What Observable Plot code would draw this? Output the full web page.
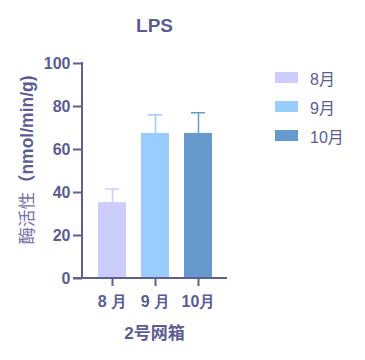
<!DOCTYPE html>
<html><head><meta charset="utf-8">
<script src="https://cdn.jsdelivr.net/npm/d3@7"></script>
<script src="https://cdn.jsdelivr.net/npm/@observablehq/plot@0.6"></script>
<style>
body{margin:0;background:#fff;font-family:"Liberation Sans",Arial,"Noto Sans CJK SC",sans-serif;}
#wrap{position:relative;width:365px;height:360px;}
#wrap svg{position:absolute;left:0;top:0;}
.t{position:absolute;color:#5c5c95;font-weight:bold;white-space:nowrap;line-height:1;}
.leg{position:absolute;left:275px;font-size:16px;color:#5c5c95;}
.leg div{height:29px;display:flex;align-items:center;}
.leg span.sw{display:inline-block;width:23px;height:11px;margin-right:12px;}
</style></head>
<body><div id="wrap"></div>
<script>
const months = ["8月", "9月", "10月"];
const tickLabels = ["8 月", "9 月", "10月"];
const values = [35.3, 67.5, 67.5];
const errors = [6.3, 8.6, 9.6];
const colors = ["#ccccff", "#99ccff", "#6699cc"];
const yTicks = [0, 20, 40, 60, 80, 100];
const title = "LPS";
const yLabelCJK = "酶活性";
const yLabelUnit = "（nmol/min/g)";
const xLabel = "2号网箱";

const data = months.map((m, i) => ({month: m, value: values[i], top: values[i] + errors[i]}));
const axisColor = "#5f5f96";
const textColor = "#5c5c95";

const chart = Plot.plot({
  width: 365, height: 360,
  marginLeft: 82, marginRight: 138, marginTop: 63, marginBottom: 82,
  style: {fontFamily: '"Liberation Sans", Arial, sans-serif', fontSize: "16px", color: textColor, background: "transparent"},
  x: {domain: months, paddingInner: 0.349, paddingOuter: 0.36, axis: null},
  y: {domain: [0, 100], axis: null},
  color: {domain: months, range: colors},
  marks: [
    Plot.barY(data, {x: "month", y: "value", fill: "month"}),
    Plot.ruleX(data, {x: "month", y1: "value", y2: "top", stroke: "month", strokeWidth: 1.5}),
    Plot.tickY(data, {x: "month", y: "top", stroke: "month", strokeWidth: 1.5, insetLeft: 7, insetRight: 7}),
    Plot.axisY(yTicks, {tickSize: 9, stroke: axisColor, strokeWidth: 2, tickPadding: 3, fill: textColor, fontSize: 16, fontWeight: "bold", label: null}),
    Plot.axisX(months, {tickSize: 8, stroke: axisColor, strokeWidth: 2, tickPadding: 9, fill: textColor, fontSize: 16, fontWeight: "bold", tickFormat: (d) => tickLabels[months.indexOf(d)], label: null})
  ]
});

const wrap = document.getElementById("wrap");
wrap.appendChild(chart);

const ys = chart.scale("y"), xs = chart.scale("x");
const svg = d3.select(chart);
svg.selectAll('g[aria-label="y-axis tick label"], g[aria-label="x-axis tick label"]')
  .attr("font-size", 16).attr("font-weight", "bold");
// axis lines drawn from the chart's own scales
const y0 = ys.apply(0), y100 = ys.apply(100);
const xLeft = xs.range[0];
const xRight = xs.range[1];
svg.append("line").attr("x1", xLeft).attr("x2", xLeft).attr("y1", y100 - 1).attr("y2", y0 + 1)
  .attr("stroke", axisColor).attr("stroke-width", 2);
svg.append("line").attr("x1", xLeft - 9).attr("x2", xRight).attr("y1", y0).attr("y2", y0)
  .attr("stroke", axisColor).attr("stroke-width", 2);

const cx = (xLeft + xRight) / 2;
// title
const t = document.createElement("div");
t.className = "t"; t.textContent = title;
t.style.cssText += `font-size:19px;left:${cx}px;top:${y100 - 47}px;transform:translateX(-50%);`;
wrap.appendChild(t);
// x label
const xl = document.createElement("div");
xl.className = "t"; xl.textContent = xLabel;
xl.style.cssText += `font-size:17px;left:${cx}px;top:${y0 + 47}px;transform:translateX(-50%);font-family:"Liberation Sans","Noto Sans CJK SC",sans-serif;`;
wrap.appendChild(xl);
// y label
const yl = document.createElement("div");
yl.className = "t";
yl.innerHTML = `<span style="font-weight:normal;font-family:'Noto Sans CJK SC',sans-serif;color:#7a72a6">${yLabelCJK}</span><span>${yLabelUnit}</span>`;
yl.style.cssText += `font-size:17.5px;left:27px;top:160px;transform:translate(-50%,-50%) rotate(-90deg);`;
wrap.appendChild(yl);
// legend
const leg = document.createElement("div");
leg.className = "leg"; leg.style.top = "63px";
months.forEach((m, i) => {
  const row = document.createElement("div");
  row.innerHTML = `<span class="sw" style="background:${colors[i]}"></span><span>${m}</span>`;
  leg.appendChild(row);
});
wrap.appendChild(leg);
</script></body></html>
